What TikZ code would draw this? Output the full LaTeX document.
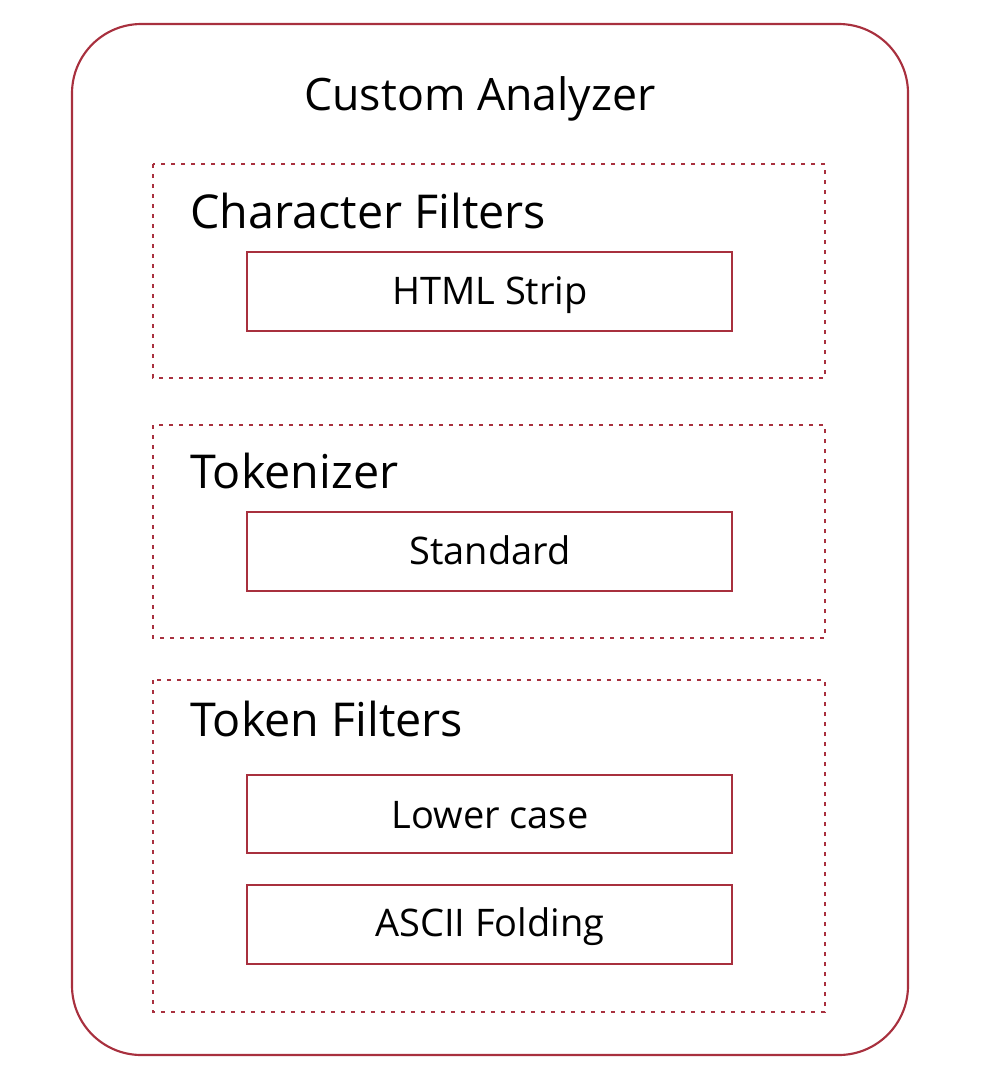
\documentclass[tikz,border=0pt]{standalone}
\usepackage{fontspec}
\setmainfont{Open Sans}
\definecolor{frame}{RGB}{168,48,62}
\begin{document}
\begin{tikzpicture}[x=0.75pt,y=-0.75pt,
  outer/.style={draw=frame,line width=1.6pt,rounded corners=52pt},
  group/.style={draw=frame,line width=1.8pt,dash pattern=on 3pt off 4.5pt},
  item/.style={draw=frame,line width=1.8pt,minimum width=485*0.75pt,font=\fontsize{28.5}{34}\selectfont},
  txt/.style={anchor=base,inner sep=0pt,font=\fontsize{28.5}{34}\selectfont},
  head/.style={anchor=base west,inner sep=0pt,font=\fontsize{35}{40}\selectfont},
  title/.style={anchor=base,inner sep=0pt,font=\fontsize{33.5}{40}\selectfont}]
\useasboundingbox (0,0) rectangle (990,1078);
\draw[outer] (72,24) rectangle (908,1055);
\node[title] (t) at (480,110) {Custom Analyzer};
\draw[group] (153,164) rectangle (825,378);
\draw[group] (153,425) rectangle (825,638);
\draw[group] (153,680) rectangle (825,1012);
\node[head] (h1) at (190,228) {Character Filters};
\node[head] (h2) at (190,488) {Tokenizer};
\node[head] (h3) at (190,736) {Token Filters};
\node[item,minimum height=79*0.75pt] (a) at (489.5,291.5) {};
\node[item,minimum height=79*0.75pt] (b) at (489.5,551.5) {};
\node[item,minimum height=78*0.75pt] (c) at (489.5,814) {};
\node[item,minimum height=79*0.75pt] (d) at (489.5,924.5) {};
\node[txt] (at) at (490,304) {HTML Strip};
\node[txt] (bt) at (490,564) {Standard};
\node[txt] (ct) at (490,828) {Lower case};
\node[txt] (dt) at (490,936) {ASCII Folding};
\end{tikzpicture}
\end{document}
